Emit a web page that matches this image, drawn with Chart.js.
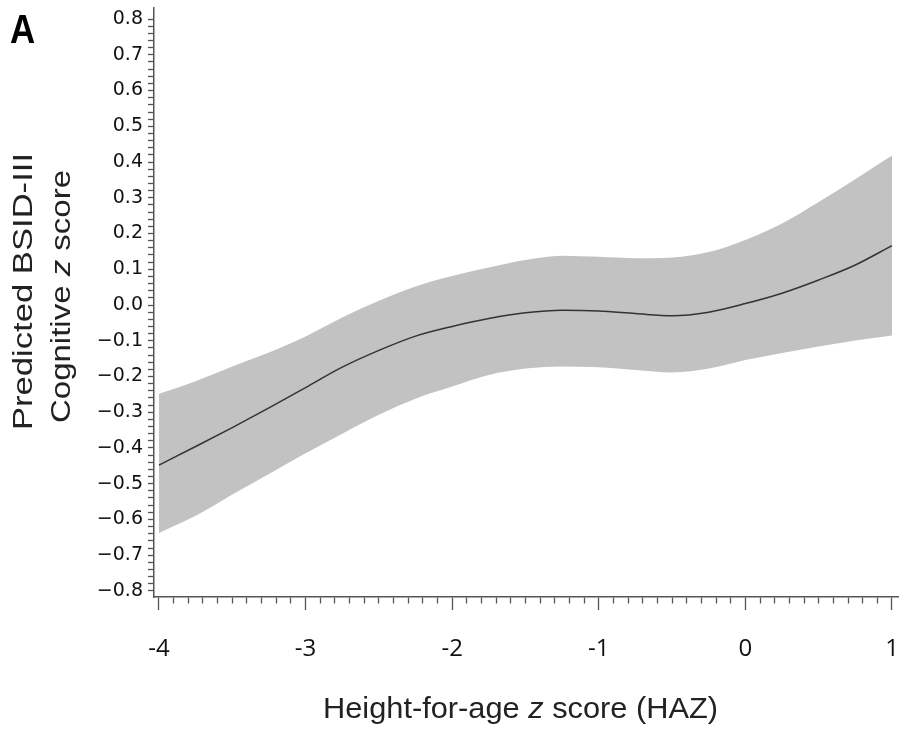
<!DOCTYPE html>
<html>
<head>
<meta charset="utf-8">
<script src="https://cdn.jsdelivr.net/npm/chart.js@4.4.1/dist/chart.umd.min.js"></script>
<style>
    html, body { margin: 0; padding: 0; background: #fff; }
    #wrap { width: 904px; height: 729px; }
</style>
</head>
<body>
<div id="wrap"><canvas id="chart-haz" width="904" height="729"></canvas></div>
<script>
    // values
    var hazValues = [-4, -3.75, -3.5, -3.25, -3, -2.75, -2.5, -2.25, -2, -1.75, -1.5,
        -1.25, -1, -0.75, -0.5, -0.25, 0, 0.25, 0.5, 0.75, 1];
    var predicted = [-0.448, -0.396, -0.343, -0.288, -0.231, -0.174, -0.127, -0.087, -0.060, -0.038, -0.022,
        -0.015, -0.017, -0.024, -0.030, -0.020, 0.004, 0.033, 0.070, 0.112, 0.166];
    var upperCI = [-0.248, -0.213, -0.172, -0.133, -0.088, -0.035, 0.012, 0.052, 0.081, 0.105, 0.126,
        0.138, 0.135, 0.131, 0.133, 0.148, 0.182, 0.228, 0.288, 0.352, 0.418];
    var lowerCI = [-0.638, -0.590, -0.530, -0.473, -0.415, -0.360, -0.307, -0.262, -0.228, -0.196, -0.178,
        -0.172, -0.174, -0.182, -0.189, -0.178, -0.154, -0.134, -0.116, -0.099, -0.085];

    var xMajorTicks = [-4, -3, -2, -1, 0, 1];
    var yMajorTicks = [-0.8, -0.7, -0.6, -0.5, -0.4, -0.3, -0.2, -0.1, 0, 0.1, 0.2, 0.3, 0.4, 0.5, 0.6, 0.7, 0.8];

    var xTicks = [];
    for (var i = -40; i <= 10; i++) xTicks.push(i / 10);
    var yTicks = [];
    for (var j = -40; j <= 40; j++) yTicks.push(j / 50);

    function isMajor(list, v) {
        return list.some(function(m) { return Math.abs(m - v) < 1e-6; });
    }

    function toPoints(ys) {
        return hazValues.map(function(x, k) { return { x: x, y: ys[k] }; });
    }

    function drawParts(ctx, parts, size, targetWidth) {
        var total = 0;
        parts.forEach(function(p) {
            ctx.font = (p.italic ? 'italic ' : '') + size + 'px "Liberation Sans", Arial, sans-serif';
            p.w = ctx.measureText(p.t).width;
            total += p.w;
        });
        ctx.scale(targetWidth / total, 1);
        var x = -total / 2;
        parts.forEach(function(p) {
            ctx.font = (p.italic ? 'italic ' : '') + size + 'px "Liberation Sans", Arial, sans-serif';
            ctx.fillText(p.t, x, 0);
            x += p.w;
        });
    }

    var titlesPlugin = {
        id: 'titles',
        afterDraw: function(chart) {
            var ctx = chart.ctx;
            ctx.save();
            ctx.fillStyle = '#000';
            ctx.textAlign = 'left';
            ctx.textBaseline = 'alphabetic';
            ctx.font = 'bold 41px "Liberation Sans", Arial, sans-serif';
            ctx.save();
            ctx.translate(10, 43);
            ctx.scale(0.85, 1);
            ctx.fillText('A', 0, 0);
            ctx.restore();

            ctx.fillStyle = '#222';
            ctx.save();
            ctx.translate(32, 291.5);
            ctx.rotate(-Math.PI / 2);
            drawParts(ctx, [{ t: 'Predicted BSID-III' }], 27, 277);
            ctx.restore();

            ctx.save();
            ctx.translate(70, 296.5);
            ctx.rotate(-Math.PI / 2);
            drawParts(ctx, [{ t: 'Cognitive ' }, { t: 'z', italic: true }, { t: ' score' }], 27, 253);
            ctx.restore();

            ctx.save();
            ctx.translate(520.5, 718);
            drawParts(ctx, [{ t: 'Height-for-age ' }, { t: 'z', italic: true }, { t: ' score (HAZ)' }], 29, 395);
            ctx.restore();
            ctx.restore();
        }
    };

    var configHaz = {
        type: 'line',
        data: {
            datasets: [{
                label: 'Predicted',
                data: toPoints(predicted),
                borderColor: '#333',
                borderWidth: 1.5,
                pointRadius: 0,
                fill: false,
                cubicInterpolationMode: 'monotone'
            }, {
                label: 'Upper 95% CI',
                data: toPoints(upperCI),
                borderWidth: 0,
                borderColor: 'rgba(0,0,0,0)',
                backgroundColor: '#c2c2c2',
                pointRadius: 0,
                fill: '+1',
                cubicInterpolationMode: 'monotone'
            }, {
                label: 'Lower 95% CI',
                data: toPoints(lowerCI),
                borderWidth: 0,
                borderColor: 'rgba(0,0,0,0)',
                pointRadius: 0,
                fill: false,
                cubicInterpolationMode: 'monotone'
            }]
        },
        options: {
            responsive: false,
            animation: false,
            events: [],
            layout: { padding: { left: 0, right: 6, top: 8, bottom: 0 } },
            plugins: {
                legend: { display: false },
                tooltip: { enabled: false }
            },
            scales: {
                x: {
                    type: 'linear',
                    min: -4.034,
                    max: 1.041,
                    border: { display: true, color: '#555', width: 1.5 },
                    grid: {
                        drawOnChartArea: false,
                        tickLength: 13,
                        tickColor: '#555',
                        tickWidth: 1.3,
                        tickBorderDash: function(c) {
                            return (c.tick && isMajor(xMajorTicks, c.tick.value)) ? [] : [6, 100];
                        }
                    },
                    ticks: {
                        autoSkip: false,
                        maxRotation: 0,
                        padding: 25,
                        color: '#111',
                        font: { family: '"Open Sans", sans-serif', size: 24 },
                        callback: function(value) {
                            return isMajor(xMajorTicks, value) ? String(Math.round(value)) : '';
                        }
                    },
                    afterBuildTicks: function(scale) {
                        scale.ticks = xTicks.map(function(v) { return { value: v }; });
                    },
                    afterFit: function(scale) {
                        scale.height = 132;
                        scale.paddingLeft = 0;
                        scale.paddingRight = 0;
                    }
                },
                y: {
                    type: 'linear',
                    min: -0.817,
                    max: 0.831,
                    border: { display: true, color: '#555', width: 1.5 },
                    grid: {
                        drawOnChartArea: false,
                        tickLength: 6,
                        tickColor: '#555',
                        tickWidth: 1.3
                    },
                    ticks: {
                        autoSkip: false,
                        padding: 5,
                        color: '#111',
                        font: { family: '"DejaVu Sans", sans-serif', size: 19 },
                        callback: function(value) {
                            if (!isMajor(yMajorTicks, value)) return '';
                            var s = Math.abs(value).toFixed(1);
                            return (value < -1e-6 ? '\u2212' : '') + s;
                        }
                    },
                    afterBuildTicks: function(scale) {
                        scale.ticks = yTicks.map(function(v) { return { value: v }; });
                    },
                    afterFit: function(scale) {
                        scale.width = 154;
                        scale.paddingTop = 0;
                        scale.paddingBottom = 0;
                    }
                }
            }
        },
        plugins: [titlesPlugin]
    };

    window.onload = function() {
        var ctxHaz = document.getElementById('chart-haz').getContext('2d');
        window.hazChart = new Chart(ctxHaz, configHaz);
    };
</script>
</body>
</html>
